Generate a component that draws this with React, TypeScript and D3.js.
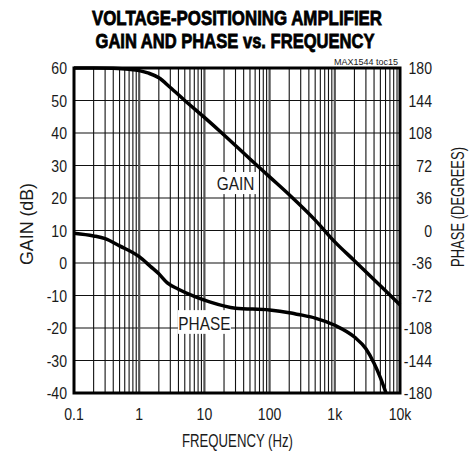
import React from "react"
import * as d3 from "d3"

// axis ticks
const freqTicks = [0.1, 1, 10, 100, 1000, 10000]
const freqTickLabels = ["0.1", "1", "10", "100", "1k", "10k"]
const gainTicks = [60, 50, 40, 30, 20, 10, 0, -10, -20, -30, -40]
const phaseTicks = [180, 144, 108, 72, 36, 0, -36, -72, -108, -144, -180]

// gain curve (dB)
const gainFreq = [0.1, 0.2, 0.4, 0.7, 1, 1.4, 2, 3, 5, 10, 20, 50, 100, 200, 500, 1000, 2000, 5000, 10000]
const gainDb = [60, 60, 59.9, 59.6, 59.2, 58.4, 57, 54, 50, 44.8, 39.4, 32, 26.5, 21, 13.2, 6.5, 0.7, -7, -12.9]

// phase curve (degrees)
const phaseFreq = [0.1, 0.2, 0.3, 0.5, 1, 1.5, 2, 2.7, 4, 7, 12, 30, 100, 200, 300, 500, 1000, 2000, 3000, 4000, 5000, 6100]
const phaseDeg = [-3, -6, -9, -17, -29, -40, -48, -58, -65, -73, -79, -86, -88, -91, -93.5, -97, -105, -118, -131, -147, -163, -180]

const FONT = "'Liberation Sans', Arial, sans-serif"

// condensed text: the chart font is a narrow sans, squeeze Liberation Sans horizontally
const T = (props: { x: number; y: number; anchor?: string; size?: number; sx?: number; children: React.ReactNode }) => {
  const { x, y, anchor = "middle", size = 16, sx = 0.88, children } = props
  return (
    <text transform={`translate(${x},${y}) scale(${sx},1)`} textAnchor={anchor} fontSize={size} fill="#1a1a1a">
      {children}
    </text>
  )
}

export default function App() {
  const width = 476
  const height = 454
  const left = 74
  const right = 400
  const top = 68
  const bottom = 393

  const x = d3.scaleLog().domain([0.1, 10000]).range([left, right])
  const yGain = d3.scaleLinear().domain([-40, 60]).range([bottom, top])
  const yPhase = d3.scaleLinear().domain([-180, 180]).range([bottom, top])

  const line = d3.line<[number, number]>().curve(d3.curveMonotoneX)
  const gainPath = line(gainFreq.map((f, i) => [x(f), yGain(gainDb[i])]))
  const phasePath = line(phaseFreq.map((f, i) => [x(f), yPhase(phaseDeg[i])]))

  const minors: number[] = []
  const majors: number[] = []
  ;[0.1, 1, 10, 100, 1000].forEach((d) => {
    for (let k = 2; k <= 9; k++) minors.push(d * k)
    if (d >= 1) majors.push(d)
  })

  return (
    <svg
      width={width}
      height={height}
      style={{ position: "absolute", left: 0, top: 0, background: "#fff" }}
      fontFamily={FONT}
    >
      <g fontWeight="bold" stroke="#000" strokeWidth={0.8} fontSize={21}>
        <text x={237} y={24.5} textAnchor="middle" textLength={290} lengthAdjust="spacingAndGlyphs">
          VOLTAGE-POSITIONING AMPLIFIER
        </text>
        <text x={235} y={48} textAnchor="middle" textLength={279} lengthAdjust="spacingAndGlyphs">
          GAIN AND PHASE vs. FREQUENCY
        </text>
      </g>
      <T x={398} y={65} anchor="end" size={9.5} sx={0.95}>
        MAX1544 toc15
      </T>

      {/* grid */}
      {gainTicks.slice(1, -1).map((g) => (
        <line key={"h" + g} x1={left} x2={right} y1={yGain(g)} y2={yGain(g)} stroke="#111" strokeWidth={1.2} />
      ))}
      {minors.map((f) => (
        <line key={"m" + f} x1={x(f)} x2={x(f)} y1={top} y2={bottom} stroke="#111" strokeWidth={1.1} />
      ))}
      {majors.map((f) => (
        <line key={"M" + f} x1={x(f)} x2={x(f)} y1={top} y2={bottom} stroke="#555" strokeWidth={2.2} />
      ))}

      {/* inline labels */}
      <rect x={x(30) - 22} y={yGain(28)} width={44} height={yGain(21.2) - yGain(28)} fill="#fff" />
      <T x={x(30)} y={yGain(22.5)} size={17.5}>
        GAIN
      </T>
      <rect x={x(10) - 26.5} y={yGain(-14.5)} width={53} height={yGain(-21.8) - yGain(-14.5)} fill="#fff" />
      <T x={x(10)} y={yGain(-20.6)} size={17.5}>
        PHASE
      </T>

      <path d={gainPath ?? ""} fill="none" stroke="#000" strokeWidth={3.5} />
      <path d={phasePath ?? ""} fill="none" stroke="#000" strokeWidth={3.5} />

      <rect x={left} y={top} width={right - left} height={bottom - top} fill="none" stroke="#000" strokeWidth={3} />

      {/* left axis */}
      {gainTicks.map((g) => (
        <T key={"gl" + g} x={67} y={yGain(g) + 6} anchor="end">
          {g}
        </T>
      ))}
      {/* right axis */}
      {phaseTicks.map((p) => (
        <T key={"pl" + p} x={432} y={yPhase(p) + 6} anchor="end">
          {p}
        </T>
      ))}
      {/* bottom axis */}
      {freqTicks.map((f, i) => (
        <T key={"fl" + f} x={x(f)} y={420}>
          {freqTickLabels[i]}
        </T>
      ))}

      <text x={237.5} y={447} textAnchor="middle" fontSize={18} fill="#1a1a1a" textLength={111} lengthAdjust="spacingAndGlyphs">
        FREQUENCY (Hz)
      </text>
      <text transform="translate(33,224) rotate(-90)" textAnchor="middle" fontSize={18} fill="#1a1a1a" textLength={82} lengthAdjust="spacingAndGlyphs">
        GAIN (dB)
      </text>
      <text transform="translate(464,207) rotate(-90)" textAnchor="middle" fontSize={18} fill="#1a1a1a" textLength={120} lengthAdjust="spacingAndGlyphs">
        PHASE (DEGREES)
      </text>
    </svg>
  )
}
